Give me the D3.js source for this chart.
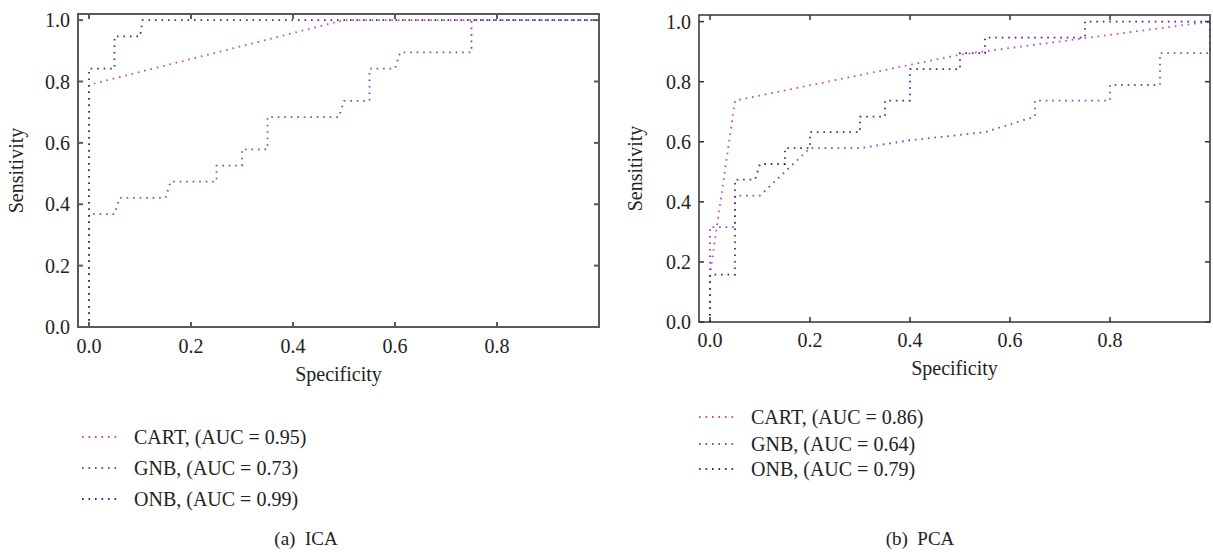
<!DOCTYPE html>
<html>
<head>
<meta charset="utf-8">
<script src="https://cdnjs.cloudflare.com/ajax/libs/d3/7.8.5/d3.min.js"></script>
<style>
  html, body { margin: 0; padding: 0; background: #fff; }
  svg { display: block; }
  text { font-family: "Liberation Serif", "Times New Roman", serif; fill: #222; }
</style>
</head>
<body>
<svg id="chart" width="1213" height="552"></svg>
<script>
// ---------- data ----------
const xTicks = [0, 0.2, 0.4, 0.6, 0.8];
const yTicks = [0, 0.2, 0.4, 0.6, 0.8, 1.0];
const seriesNames = ["CART", "GNB", "ONB"];
const seriesColors = ["#c646b4", "#6e4cc8", "#4a2090"];

// (a) ICA  — [specificity axis value, sensitivity]
const icaCART = [[0,0],[0,0.789],[0.5,1.0],[1,1]];
const icaGNB  = [[0,0],[0,0.368],[0.05,0.368],[0.06,0.421],[0.15,0.421],[0.16,0.474],[0.25,0.474],[0.25,0.526],
                 [0.3,0.526],[0.3,0.579],[0.35,0.579],[0.35,0.684],[0.49,0.684],[0.5,0.737],[0.55,0.737],
                 [0.55,0.842],[0.6,0.842],[0.61,0.895],[0.75,0.895],[0.75,1.0],[1,1]];
const icaONB  = [[0,0],[0,0.842],[0.05,0.842],[0.05,0.947],[0.1,0.947],[0.105,1.0],[1,1]];
const icaAUC  = ["0.95", "0.73", "0.99"];

// (b) PCA
const pcaCART = [[0,0],[0,0.158],[0.05,0.737],[0.5,0.89],[1,1]];
const pcaGNB  = [[0,0],[0,0.316],[0.04,0.316],[0.05,0.316],[0.05,0.421],[0.1,0.421],[0.2,0.579],[0.3,0.579],
                 [0.4,0.605],[0.55,0.632],[0.65,0.684],[0.65,0.737],[0.8,0.737],[0.8,0.789],[0.9,0.789],
                 [0.9,0.895],[1,0.895],[1,1]];
const pcaONB  = [[0,0],[0,0.158],[0.05,0.158],[0.05,0.474],[0.09,0.474],[0.1,0.526],[0.15,0.526],[0.15,0.579],
                 [0.2,0.579],[0.2,0.632],[0.3,0.632],[0.3,0.684],[0.35,0.684],[0.35,0.737],[0.4,0.737],
                 [0.4,0.842],[0.5,0.842],[0.5,0.895],[0.55,0.895],[0.55,0.947],[0.75,0.947],[0.75,1.0],[1,1]];
const pcaAUC  = ["0.86", "0.64", "0.79"];

const captions = ["(a)\u2002ICA", "(b)\u2002PCA"];
const xTitle = "Specificity";
const yTitle = "Sensitivity";

// ---------- drawing ----------
const svg = d3.select("#chart");
const fmt = d3.format(".1f");
const FS = 20;

const panels = [
  { series: [icaCART, icaGNB, icaONB], auc: icaAUC, caption: captions[0],
    left: 78, right: 599, top: 14, bottom: 327, xmin: -0.0216, ymax: 1.02,
    frame: "#5a5a5a", frameW: 2,
    legX: 82, legY: [444, 475, 506], capX: 306,
    yTitleX: 23, xTitleY: 381, xlOff: 26 },
  { series: [pcaCART, pcaGNB, pcaONB], auc: pcaAUC, caption: captions[1],
    left: 699, right: 1210, top: 15, bottom: 322, xmin: -0.022, ymax: 1.022,
    frame: "#333333", frameW: 1.5,
    legX: 699, legY: [424, 451, 476], capX: 920,
    yTitleX: 642, xTitleY: 375, xlOff: 25 }
];

panels.forEach(p => {
  const x = d3.scaleLinear().domain([p.xmin, 1]).range([p.left, p.right]);
  const y = d3.scaleLinear().domain([0, p.ymax]).range([p.bottom, p.top]);
  const g = svg.append("g");

  // curves
  const line = d3.line().x(d => x(d[0])).y(d => y(d[1]));
  p.series.forEach((s, i) => {
    g.append("path").datum(s)
      .attr("d", line)
      .attr("fill", "none")
      .attr("stroke", seriesColors[i])
      .attr("stroke-width", 1.8)
      .attr("stroke-dasharray", "1.6,4.9");
  });

  // frame
  g.append("rect")
    .attr("x", p.left).attr("y", p.top)
    .attr("width", p.right - p.left).attr("height", p.bottom - p.top)
    .attr("fill", "none").attr("stroke", p.frame).attr("stroke-width", p.frameW);

  // inward ticks on all sides
  const tickLen = 5;
  const tg = g.append("g").attr("stroke", p.frame).attr("stroke-width", p.frameW);
  xTicks.forEach(t => {
    tg.append("line").attr("x1", x(t)).attr("x2", x(t)).attr("y1", p.bottom).attr("y2", p.bottom - tickLen);
    tg.append("line").attr("x1", x(t)).attr("x2", x(t)).attr("y1", p.top).attr("y2", p.top + tickLen);
  });
  yTicks.forEach(t => {
    tg.append("line").attr("x1", p.left).attr("x2", p.left + tickLen).attr("y1", y(t)).attr("y2", y(t));
    tg.append("line").attr("x1", p.right).attr("x2", p.right - tickLen).attr("y1", y(t)).attr("y2", y(t));
  });

  // tick labels
  g.selectAll(".xl").data(xTicks).enter().append("text")
    .attr("x", d => x(d)).attr("y", p.bottom + p.xlOff)
    .attr("text-anchor", "middle").attr("font-size", FS)
    .text(d => fmt(d));
  g.selectAll(".yl").data(yTicks).enter().append("text")
    .attr("x", p.left - 8).attr("y", d => y(d)).attr("dy", "0.35em")
    .attr("text-anchor", "end").attr("font-size", FS)
    .text(d => fmt(d));

  // axis titles
  g.append("text")
    .attr("x", (p.left + p.right) / 2).attr("y", p.xTitleY)
    .attr("text-anchor", "middle").attr("font-size", FS)
    .text(xTitle);
  g.append("text")
    .attr("transform", `translate(${p.yTitleX},${(p.top + p.bottom) / 2}) rotate(-90)`)
    .attr("text-anchor", "middle").attr("font-size", FS)
    .text(yTitle);

  // legend
  seriesNames.forEach((name, i) => {
    const ly = p.legY[i] - 7;
    g.append("line")
      .attr("x1", p.legX).attr("x2", p.legX + 36)
      .attr("y1", ly).attr("y2", ly)
      .attr("stroke", seriesColors[i]).attr("stroke-width", 1.8)
      .attr("stroke-dasharray", "1.6,4.9");
    g.append("text")
      .attr("x", p.legX + 52).attr("y", p.legY[i])
      .attr("font-size", FS)
      .text(`${name}, (AUC = ${p.auc[i]})`);
  });

  // caption
  g.append("text")
    .attr("x", p.capX).attr("y", 545)
    .attr("text-anchor", "middle").attr("font-size", 19)
    .text(p.caption);
});
</script>
</body>
</html>
